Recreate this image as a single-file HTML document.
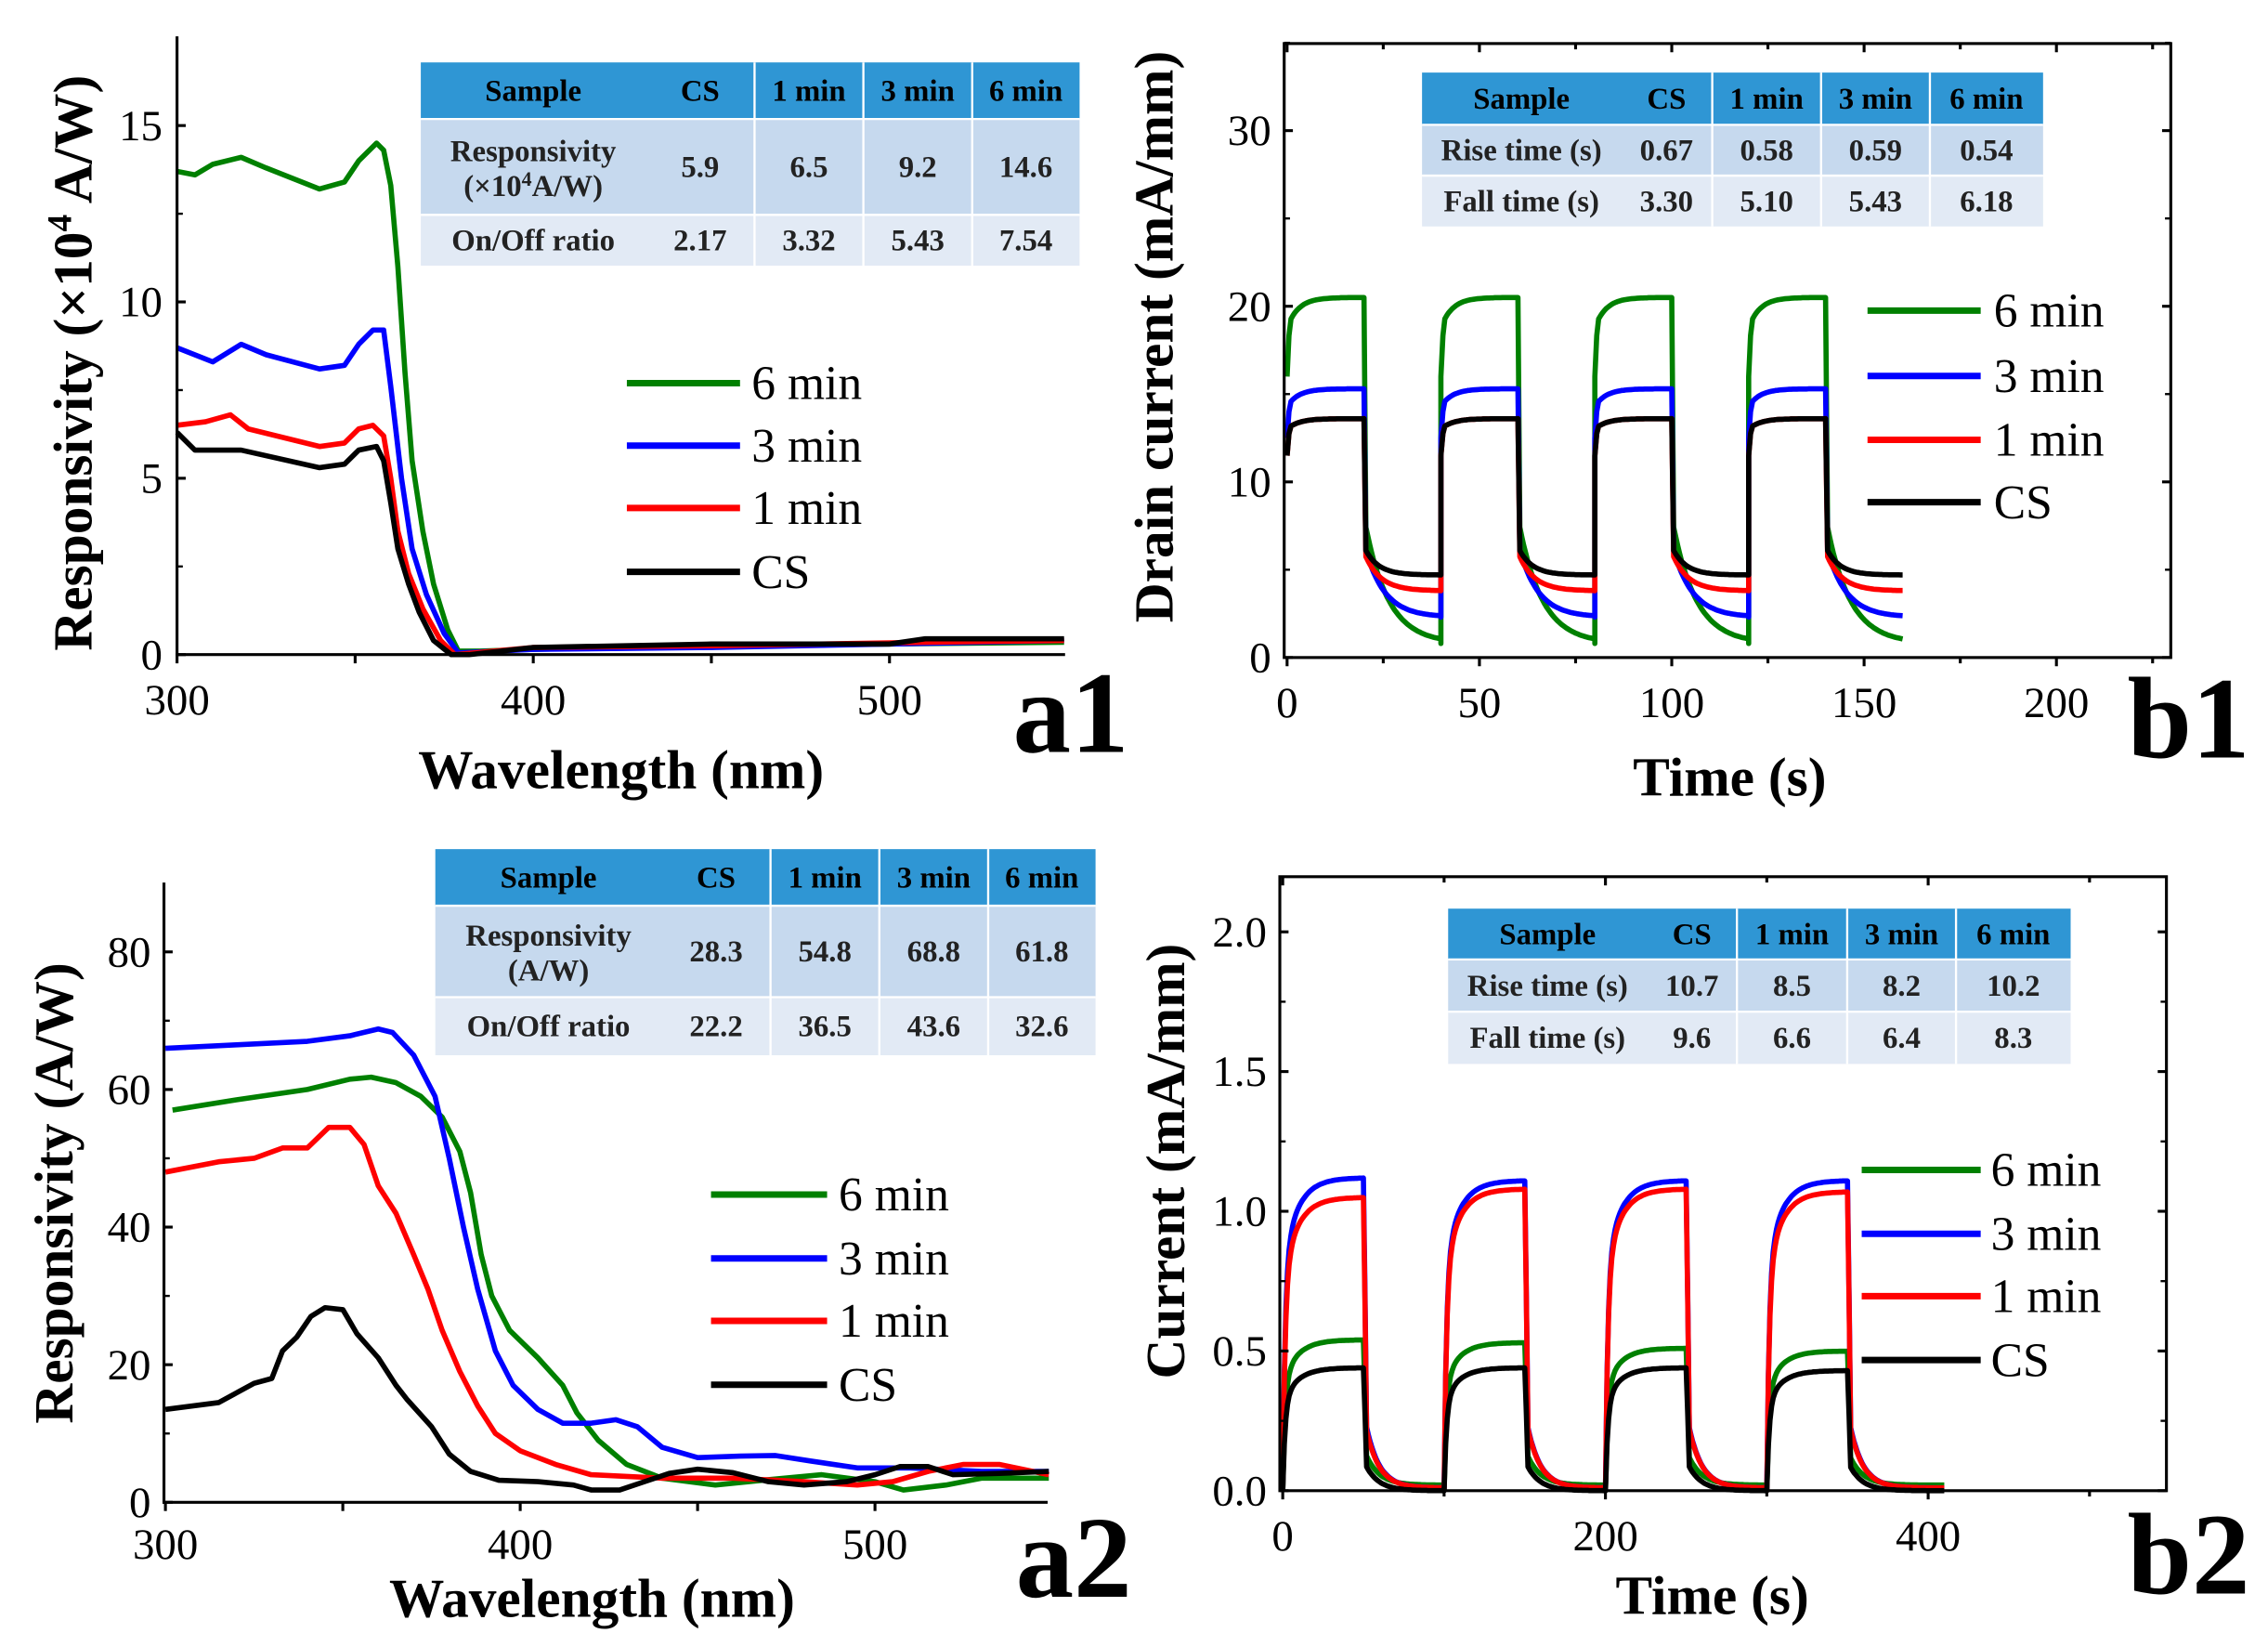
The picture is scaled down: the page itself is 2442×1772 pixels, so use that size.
<!DOCTYPE html>
<html><head><meta charset="utf-8"><style>
html,body{margin:0;padding:0;background:#fff;}
svg{display:block;}
text{font-family:"Liberation Serif",serif;fill:#000;}
.tk{font-size:30px;}
.lab{font-size:38px;font-weight:bold;}
.leg{font-size:33px;}
.big{font-size:80px;font-weight:bold;}
.th{font-size:21px;font-weight:bold;}
.td{font-size:21px;font-weight:bold;fill:#222;}
</style></head><body>
<svg id="s" width="2442" height="1772" viewBox="0 0 1563 1134" preserveAspectRatio="none" xmlns="http://www.w3.org/2000/svg">
<rect width="1563" height="1134" fill="#fff"/>
<g id="g"></g>
</svg>
<script>
var out='';
function P(d,c,w){out+='<path d="'+d+'" fill="none" stroke="'+c+'" stroke-width="'+(w||3)+'" stroke-linejoin="round"/>';}
function T(x,y,s,cls,extra){out+='<text x="'+x+'" y="'+y+'" class="'+cls+'" '+(extra||'')+'>'+s+'</text>';}
function L(x1,y1,x2,y2,w){out+='<line x1="'+x1+'" y1="'+y1+'" x2="'+x2+'" y2="'+y2+'" stroke="#000" stroke-width="'+(w||2)+'"/>';}
function curve(pts,fx,fy,c,w){var d='';for(var i=0;i<pts.length;i++){d+=(i?'L':'M')+fx(pts[i][0]).toFixed(1)+','+fy(pts[i][1]).toFixed(1);}P(d,c,w);}
function table(x0,y0,cols,rows,hdr,data){
 var ys=[y0].concat(rows);var cx=cols;
 out+='<rect x="'+x0+'" y="'+y0+'" width="'+(cx[cx.length-1]-x0)+'" height="'+(ys[1]-y0)+'" fill="#2f96d4"/>';
 var bg=['#c6d9ee','#e2eaf5'];
 for(var r=1;r<ys.length-1;r++)out+='<rect x="'+x0+'" y="'+ys[r]+'" width="'+(cx[cx.length-1]-x0)+'" height="'+(ys[r+1]-ys[r])+'" fill="'+bg[r-1]+'"/>';
 for(var i=1;i<cx.length-1;i++)out+='<line x1="'+cx[i]+'" y1="'+y0+'" x2="'+cx[i]+'" y2="'+ys[ys.length-1]+'" stroke="#fff" stroke-width="1.5"/>';
 for(var r=1;r<ys.length-1;r++)out+='<line x1="'+x0+'" y1="'+ys[r]+'" x2="'+cx[cx.length-1]+'" y2="'+ys[r]+'" stroke="#fff" stroke-width="1.5"/>';
 var all=[hdr].concat(data);
 for(var r=0;r<all.length;r++){for(var c=0;c<all[r].length;c++){var xm=((c?cx[c-1]:x0)+cx[c])/2;var cell=all[r][c];var ym=(ys[r]+ys[r+1])/2;
  if(Array.isArray(cell)){T(xm,ym-4,cell[0],'td','text-anchor="middle"');T(xm,ym+20,cell[1],'td','text-anchor="middle"');}
  else T(xm,ym+7,cell,r?'td':'th','text-anchor="middle"');}}
}
function legend(x1,x2,ys,tx){var cs=['#008000','#0000ff','#ff0000','#000'],nm=['6 min','3 min','1 min','CS'];
 for(var i=0;i<4;i++){out+='<line x1="'+x1+'" y1="'+ys[i]+'" x2="'+x2+'" y2="'+ys[i]+'" stroke="'+cs[i]+'" stroke-width="4.5"/>';T(tx,ys[i]+11,nm[i],'leg');}}
var LW=3.6;
// ---------- a1 ----------
(function(){
 var fx=function(v){return 122+(v-300)*2.455;},fy=function(v){return 451-v*24.3;};
 var sets=[
 ['#008000',[[300,13.7],[305,13.6],[310,13.9],[318,14.1],[325,13.8],[340,13.2],[347,13.4],[351,14.0],[356,14.5],[358,14.3],[360,13.3],[362,11],[364,8],[366,5.5],[369,3.5],[372,2],[376,0.7],[379,0.1],[385,0.1],[400,0.15],[450,0.25],[500,0.3],[549,0.35]]],
 ['#0000ff',[[300,8.7],[310,8.3],[318,8.8],[325,8.5],[340,8.1],[347,8.2],[351,8.8],[355,9.2],[358,9.2],[360,7.6],[363,5],[366,3],[370,1.7],[375,0.6],[379,0.05],[400,0.15],[450,0.2],[500,0.3],[549,0.4]]],
 ['#ff0000',[[300,6.5],[308,6.6],[315,6.8],[320,6.4],[340,5.9],[347,6.0],[351,6.4],[355,6.5],[358,6.2],[360,5],[362,3.5],[365,2.3],[369,1.3],[374,0.4],[378,0],[400,0.2],[450,0.25],[510,0.35],[549,0.4]]],
 ['#000',[[300,6.3],[305,5.8],[318,5.8],[340,5.3],[347,5.4],[351,5.8],[356,5.9],[358,5.5],[360,4.3],[362,3.0],[365,2.0],[368,1.2],[372,0.4],[377,0],[382,0],[400,0.2],[450,0.3],[500,0.3],[510,0.45],[549,0.45]]]];
 for(var i=0;i<4;i++)curve(sets[i][1],fx,fy,sets[i][0],LW);
 L(122,25,122,452);L(121,451,734,451);
 [0,5,10,15].forEach(function(v){L(122,fy(v),128,fy(v));T(112,fy(v)+10,v,'tk','text-anchor="end"');});
 [2.5,7.5,12.5].forEach(function(v){L(122,fy(v),126,fy(v),1.5);});
 [300,350,400,450,500].forEach(function(v){L(fx(v),451,fx(v),457);});
 [300,400,500].forEach(function(v){T(fx(v),492,v,'tk','text-anchor="middle"');});
 T(428,543,'Wavelength (nm)','lab','text-anchor="middle"');
 T(0,0,'Responsivity (×10<tspan dy="-14" font-size="24">4</tspan><tspan dy="14"> A/W)</tspan>','lab','text-anchor="middle" transform="translate(63,250) rotate(-90)"');
 T(698,518,'a1','big');
 table(290,43,[445,520,595,670,744],[82,148,183],['Sample','CS','1 min','3 min','6 min'],
  [[['Responsivity','(×10<tspan dy="-7" font-size="14">4</tspan><tspan dy="7">A/W)</tspan>'],'5.9','6.5','9.2','14.6'],['On/Off ratio','2.17','3.32','5.43','7.54']]);
 legend(432,510,[264,307,350,394],518);
})();

// ---------- b1 ----------
(function(){
 var fx=function(v){return 887+v*2.651;},fy=function(v){return 453-v*12.1;};
 var par=[['#008000',16,18.8,20.5,8,0.8,6],['#0000ff',12.5,14.3,15.3,6.5,2.3,5],['#ff0000',11.5,13,13.6,6,3.8,4],['#000',11.5,13,13.6,6.3,4.7,3.5]];
 for(var k=0;k<4;k++){var p=par[k],d=[];
  for(var c=0;c<4;c++){var t0=c*40;
   d.push([t0,c?p[5]:p[1]]);
   for(var t=0;t<=20;t+=0.5){var y=p[3]-(p[3]-p[2])*Math.exp(-t/3);if(t<0.6)y=p[1]+(p[2]-p[1])*t/0.6;d.push([t0+t,y]);}
   for(var t=0;t<=20;t+=0.5){var y=p[5]+(p[4]-p[5])*Math.exp(-t/p[6]);if(t<0.5)y=p[3]-(p[3]-p[4])*t/0.5;d.push([t0+20+t,y]);}
  }
  curve(d.filter(function(q){return q[0]<=161;}),fx,fy,p[0],LW);}
 out+='<rect x="885" y="30" width="611" height="423" fill="none" stroke="#000" stroke-width="2"/>';
 [0,10,20,30].forEach(function(v){L(885,fy(v),891,fy(v));L(1496,fy(v),1490,fy(v));T(876,fy(v)+10,v,'tk','text-anchor="end"');});
 [5,15,25,35].forEach(function(v){L(885,fy(v),889,fy(v),1.5);L(1496,fy(v),1492,fy(v),1.5);});
 [0,25,50,75,100,125,150,175,200,225].forEach(function(v){var l=v%50?4:6;L(fx(v),453,fx(v),453+l);L(fx(v),30,fx(v),30+l);});
 [0,50,100,150,200].forEach(function(v){T(fx(v),494,v,'tk','text-anchor="middle"');});
 T(1192,548,'Time (s)','lab','text-anchor="middle"');
 T(0,0,'Drain current (mA/mm)','lab','text-anchor="middle" transform="translate(808,232) rotate(-90)"');
 T(1466,522,'b1','big');
 table(980,50,[1117,1180,1255,1330,1408],[86,121,156],['Sample','CS','1 min','3 min','6 min'],
  [['Rise time (s)','0.67','0.58','0.59','0.54'],['Fall time (s)','3.30','5.10','5.43','6.18']]);
 legend(1287,1365,[214,259,303,346],1374);
})();

// ---------- a2 ----------
(function(){
 var fx=function(v){return 114+(v-300)*2.445;},fy=function(v){return 1035-v*4.74;};
 var sets=[
 ['#008000',[[302,57],[320,58.5],[340,60],[352,61.5],[358,61.8],[365,61],[372,59],[378,56],[383,51],[386,45],[389,36],[392,30],[397,25],[405,21],[412,17],[416,13],[422,9],[430,5.5],[440,3.5],[455,2.5],[470,3.3],[485,4],[500,3],[508,1.8],[520,2.5],[530,3.5],[549,3.5]]],
 ['#0000ff',[[300,66],[320,66.5],[340,67],[352,67.8],[360,68.8],[364,68.3],[370,65],[376,59],[380,50],[384,40],[388,31],[393,22],[398,17],[405,13.5],[412,11.5],[420,11.5],[427,12],[433,11],[440,8],[450,6.5],[462,6.7],[472,6.8],[482,6],[495,5],[510,5],[530,4.5],[549,4.5]]],
 ['#ff0000',[[300,48],[315,49.5],[325,50],[333,51.5],[340,51.5],[346,54.5],[352,54.5],[356,52],[360,46],[365,42],[370,36],[374,31],[378,25],[383,19],[388,14],[393,10],[400,7.5],[410,5.5],[420,4],[440,3.5],[460,3.5],[480,3],[495,2.5],[505,3],[515,4.5],[525,5.5],[535,5.5],[549,4]]],
 ['#000',[[300,13.5],[315,14.5],[325,17.3],[330,18],[333,22],[337,24],[341,27],[345,28.3],[350,28],[354,24.5],[360,21],[365,17],[368,15],[375,11],[380,7],[386,4.5],[394,3.2],[405,3],[415,2.5],[420,1.8],[428,1.8],[435,3],[442,4.2],[450,4.8],[460,4.3],[470,3],[480,2.5],[492,3],[500,4],[507,5.2],[515,5.2],[522,4],[535,4.2],[549,4.5]]]];
 for(var i=0;i<4;i++)curve(sets[i][1],fx,fy,sets[i][0],LW);
 L(113,608,113,1036);L(112,1035,722,1035);
 [0,20,40,60,80].forEach(function(v){L(113,fy(v),119,fy(v));T(104,fy(v)+10,v,'tk','text-anchor="end"');});
 [10,30,50,70].forEach(function(v){L(113,fy(v),117,fy(v),1.5);});
 [300,350,400,450,500].forEach(function(v){L(fx(v),1035,fx(v),1041);});
 [300,400,500].forEach(function(v){T(fx(v),1074,v,'tk','text-anchor="middle"');});
 T(408,1114,'Wavelength (nm)','lab','text-anchor="middle"');
 T(0,0,'Responsivity (A/W)','lab','text-anchor="middle" transform="translate(50,822) rotate(-90)"');
 T(700,1100,'a2','big');
 table(300,585,[456,531,606,681,755],[624,687,727],['Sample','CS','1 min','3 min','6 min'],
  [[['Responsivity','(A/W)'],'28.3','54.8','68.8','61.8'],['On/Off ratio','22.2','36.5','43.6','32.6']]);
 legend(490,570,[823,867,910,954],578);
})();

// ---------- b2 ----------
(function(){
 var fx=function(v){return 884+v*1.112;},fy=function(v){return 1027-v*192.5;};
 var par=[['#008000',[0.54,0.53,0.51,0.50],0.02],['#0000ff',[1.12,1.11,1.11,1.11],0.01],['#ff0000',[1.05,1.08,1.08,1.07],0.01],['#000',[0.44,0.44,0.44,0.43],0.0]];
 for(var k=0;k<4;k++){var p=par[k],d=[];
  for(var c=0;c<4;c++){var t0=c*100,H=p[1][c];
   for(var t=0;t<=50;t+=1){var y=H*(1-0.72*Math.exp(-t/1.5)-0.28*Math.exp(-t/9));d.push([t0+t,y]);}
   var top=d[d.length-1][1];
   for(var t=0;t<=50;t+=1){var y=p[2]+(top*0.25)*Math.exp(-t/8);if(t<2)y=top+(top*0.25+p[2]-top)*t/2;d.push([t0+50+t,y]);}
  }
  d.push([410,p[2]]);
  curve(d.filter(function(q){return q[0]<=410;}),fx,fy,p[0],LW);}
 out+='<rect x="882" y="604" width="611" height="423" fill="none" stroke="#000" stroke-width="2"/>';
 [0,0.5,1.0,1.5,2.0].forEach(function(v){L(882,fy(v),888,fy(v));L(1493,fy(v),1487,fy(v));T(873,fy(v)+10,v.toFixed(1),'tk','text-anchor="end"');});
 [0.25,0.75,1.25,1.75].forEach(function(v){L(882,fy(v),886,fy(v),1.5);L(1493,fy(v),1489,fy(v),1.5);});
 [0,100,200,300,400,500].forEach(function(v){var l=v%200?4:6;L(fx(v),1027,fx(v),1027+l);L(fx(v),604,fx(v),604+l);});
 [0,200,400].forEach(function(v){T(fx(v),1068,v,'tk','text-anchor="middle"');});
 T(1180,1112,'Time (s)','lab','text-anchor="middle"');
 T(0,0,'Current (mA/mm)','lab','text-anchor="middle" transform="translate(816,800) rotate(-90)"');
 T(1466,1098,'b2','big');
 table(998,626,[1135,1197,1273,1348,1427],[661,697,733],['Sample','CS','1 min','3 min','6 min'],
  [['Rise time (s)','10.7','8.5','8.2','10.2'],['Fall time (s)','9.6','6.6','6.4','8.3']]);
 legend(1283,1365,[806,850,893,937],1372);
})();
document.getElementById('g').innerHTML=out;
</script>
</body></html>
